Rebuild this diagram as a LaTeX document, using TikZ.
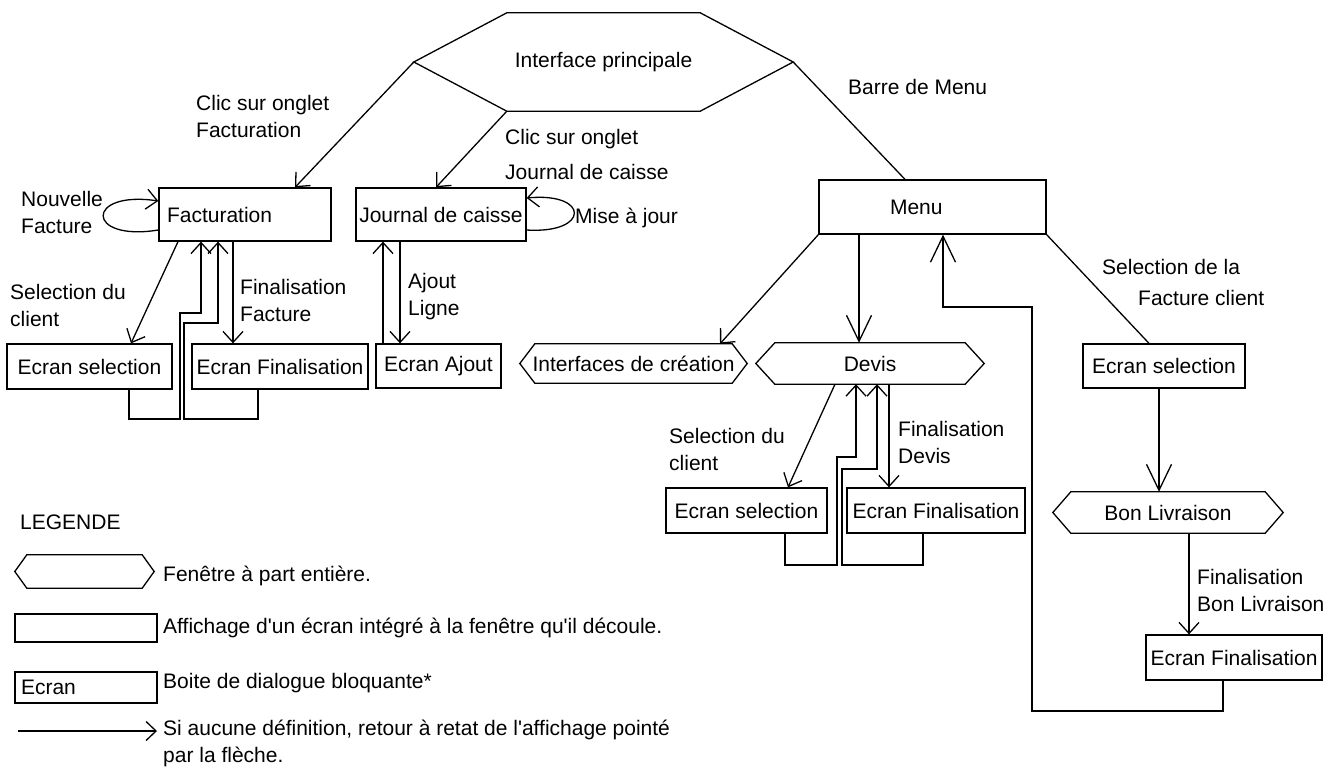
\documentclass[tikz,border=0pt]{standalone}
\usepackage{fontspec}
\setmainfont{Liberation Sans}
\usetikzlibrary{arrows.meta,calc}
\newcommand\labfont{\fontsize{21}{27}\selectfont}
\newcommand\hexdraw[2]{\draw[plain] (#1.west) -- ($(#1.north west)+(#2,0)$) -- ($(#1.north east)+(-#2,0)$) -- (#1.east) -- ($(#1.south east)+(-#2,0)$) -- ($(#1.south west)+(#2,0)$) -- cycle;}
\begin{document}
\begin{tikzpicture}[x=1pt,y=-1pt,
  plain/.style={line width=1.3pt},
  box/.style={draw, line width=1.3pt, inner sep=0pt, font=\labfont},
  hexn/.style={inner sep=0pt, font=\labfont},
  lbl/.style={inner sep=0pt, font=\labfont, align=left, anchor=west},
  arr/.style={line width=1.3pt, -{Straight Barb[length=11pt,width=20pt]}},
  bigarr/.style={line width=1.3pt, -{Straight Barb[length=26pt,width=25pt]}},
  legarr/.style={line width=1.3pt, -{Straight Barb[length=10pt,width=19pt]}}]
\fill[white] (0,0) rectangle (1332,771);
\useasboundingbox (0,0) rectangle (1332,771);

% main hexagon
\node[hexn, minimum width=379pt, minimum height=98pt] (main) at (603.5,62) {Interface principale};
\hexdraw{main}{93}

% boxes
\node[box, minimum width=172pt, minimum height=53pt, text width=156pt, align=left] (fac) at (245,214.5) {Facturation};
\node[box, minimum width=170pt, minimum height=53pt] (jou) at (441,214.5) {Journal de caisse};
\node[box, minimum width=227pt, minimum height=54pt, text width=85pt, align=left] (menu) at (932.5,207) {Menu};
\node[box, minimum width=165pt, minimum height=45pt] (esel1) at (89.5,366.5) {Ecran selection};
\node[box, minimum width=176pt, minimum height=45pt] (efin1) at (280,366.5) {Ecran Finalisation};
\node[box, minimum width=125pt, minimum height=44pt] (eaj) at (438.5,366) {Ecran Ajout};
\node[hexn, minimum width=227pt, minimum height=39pt] (ifc) at (633.5,363.5) {Interfaces de création};
\hexdraw{ifc}{15}
\node[hexn, minimum width=228pt, minimum height=41pt] (devis) at (870,363.5) {Devis};
\hexdraw{devis}{19}
\node[box, minimum width=161pt, minimum height=45pt] (esel2) at (746.5,510.5) {Ecran selection};
\node[box, minimum width=178pt, minimum height=45pt] (efin2) at (936,510.5) {Ecran Finalisation};
\node[box, minimum width=162pt, minimum height=44pt] (esel3) at (1164,366) {Ecran selection};
\node[hexn, minimum width=230pt, minimum height=41pt] (bl) at (1168,512.5) {Bon Livraison};
\hexdraw{bl}{18}
\node[box, minimum width=176pt, minimum height=45pt] (efin3) at (1234,657.5) {Ecran Finalisation};

% connectors from main
\draw[arr] (main.west) -- (295,0 |- fac.north);
\draw[arr] ($(main.south west)+(93,0)$) -- (436,0 |- jou.north);
\draw[plain] (main.east) -- (905,0 |- menu.north);

% Facturation
\draw[arr] (fac.west |- 0,230) .. controls (85,242) and (85,190) .. (fac.west |- 0,201);
\draw[arr] (178,0 |- fac.south) -- (131,0 |- esel1.north);
\draw[arr] (233,0 |- fac.south) -- (233,0 |- efin1.north);
\draw[arr] (129,0 |- esel1.south) -- (129,419) -- (180,419) -- (180,313) -- (201,313) -- (201,0 |- fac.south);
\draw[arr] (258,0 |- efin1.south) -- (258,419) -- (184,419) -- (184,323) -- (218,323) -- (218,0 |- fac.south);

% Journal
\draw[arr] (jou.east |- 0,230) .. controls (590,234) and (590,192) .. (jou.east |- 0,198);
\draw[arr] (400,0 |- jou.south) -- (400,0 |- eaj.north);
\draw[arr] (383,0 |- eaj.north) -- (383,0 |- jou.south);

% Menu
\draw[arr] (menu.south west) -- (720,0 |- ifc.north);
\draw[bigarr] (859,0 |- menu.south) -- (859,0 |- devis.north);
\draw[plain] (menu.south east) -- (1149,0 |- esel3.north);

% Devis
\draw[arr] (835,0 |- devis.south) -- (788,0 |- esel2.north);
\draw[arr] (889,0 |- devis.south) -- (889,0 |- efin2.north);
\draw[arr] (785,0 |- esel2.south) -- (785,565) -- (837,565) -- (837,457) -- (856,457) -- (856,0 |- devis.south);
\draw[arr] (923,0 |- efin2.south) -- (923,565) -- (842,565) -- (842,469) -- (877,469) -- (877,0 |- devis.south);

% right column
\draw[bigarr] (1159,0 |- esel3.south) -- (1159,0 |- bl.north);
\draw[arr] (1189,0 |- bl.south) -- (1189,0 |- efin3.north);
\draw[bigarr] (1223,0 |- efin3.south) -- (1223,711) -- (1032,711) -- (1032,307) -- (943,307) -- (943,0 |- menu.south);

% labels
\node[lbl] (l1) at (196,116.5) {Clic sur onglet\\Facturation};
\node[lbl, align=left] (l2) at (505,154.5) {Clic sur onglet\\[8pt]Journal de caisse};
\node[lbl] (l3) at (848,87) {Barre de Menu};
\node[lbl] (l4) at (21,212.5) {Nouvelle\\Facture};
\node[lbl] (l5) at (575,218) {Mise à jour};
\node[lbl] (l6) at (10,305.5) {Selection du\\client};
\node[lbl] (l7) at (240,300) {Finalisation\\Facture};
\node[lbl] (l8) at (408,296.5) {Ajout\\Ligne};
\node[lbl] (l9) at (1102,282) {Selection de la\\[4pt]\hspace*{36pt}Facture client};
\node[lbl] (l10) at (669,449) {Selection du\\client};
\node[lbl] (l11) at (898,442) {Finalisation\\Devis};
\node[lbl] (l12) at (1197,590.5) {Finalisation\\Bon Livraison};

% legend
\node[lbl] (leg) at (20,522) {LEGENDE};
\node[hexn, minimum width=139pt, minimum height=33pt] (lhex) at (84.5,571.5) {};
\hexdraw{lhex}{12}
\node[box, minimum width=142pt, minimum height=28pt] (lrect) at (86,628) {};
\node[box, minimum width=142pt, minimum height=31pt, text width=130pt, align=left] (lecr) at (86,687.5) {Ecran};
\coordinate (la1) at (18,731);
\coordinate (la2) at (157,731);
\draw[legarr] (la1) -- (la2);
\node[lbl] (t1) at (163,576) {Fenêtre à part entière.};
\node[lbl] (t2) at (163,628) {Affichage d\textquotesingle un écran intégré à la fenêtre qu\textquotesingle il découle.};
\node[lbl] (t3) at (163,683) {Boite de dialogue bloquante*};
\node[lbl] (t4) at (163,743) {Si aucune définition, retour à retat de l\textquotesingle affichage pointé\\par la flèche.};
\end{tikzpicture}
\end{document}
